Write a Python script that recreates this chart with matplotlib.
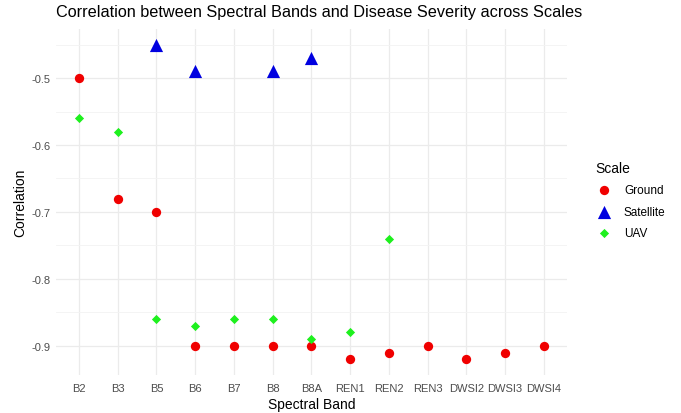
import numpy as np
import matplotlib.pyplot as plt

plt.rcParams['font.family'] = ['Liberation Sans', 'DejaVu Sans']

bands = ["B2", "B3", "B5", "B6", "B7", "B8", "B8A", "REN1", "REN2", "REN3",
         "DWSI2", "DWSI3", "DWSI4"]

# Ground
ground_bands = ["B2", "B3", "B5", "B6", "B7", "B8", "B8A", "REN1", "REN2", "REN3",
                "DWSI2", "DWSI3", "DWSI4"]
ground_vals = [-0.50, -0.68, -0.70, -0.90, -0.90, -0.90, -0.90, -0.92, -0.91, -0.90,
               -0.92, -0.91, -0.90]

# Satellite
sat_bands = ["B5", "B6", "B8", "B8A"]
sat_vals = [-0.45, -0.49, -0.49, -0.47]

# UAV
uav_bands = ["B2", "B3", "B5", "B6", "B7", "B8", "B8A", "REN1", "REN2"]
uav_vals = [-0.56, -0.58, -0.86, -0.87, -0.86, -0.86, -0.89, -0.88, -0.74]

pos = {b: i for i, b in enumerate(bands)}

fig = plt.figure(figsize=(6.81, 4.14), dpi=100)
ax = fig.add_axes([0.0819, 0.0918, 0.7507, 0.8362])

ax.scatter([pos[b] for b in ground_bands], ground_vals, s=45, marker='o',
           color='#F00000', label='Ground', zorder=3, linewidths=0)
ax.scatter([pos[b] for b in sat_bands], sat_vals, s=90, marker='^',
           color='#0000E0', label='Satellite', zorder=3, linewidths=0)
ax.scatter([pos[b] for b in uav_bands], uav_vals, s=22, marker='D',
           color='#1EF01E', label='UAV', zorder=3, linewidths=0)

ax.set_xlim(-0.6, len(bands) - 1 + 0.6)
ax.set_ylim(-0.9435, -0.4265)
ax.set_xticks(range(len(bands)))
ax.set_xticklabels(bands)
ax.set_yticks([-0.9, -0.8, -0.7, -0.6, -0.5])
ax.set_yticklabels(["-0.9", "-0.8", "-0.7", "-0.6", "-0.5"])
ax.set_yticks([-0.85, -0.75, -0.65, -0.55, -0.45], minor=True)

ax.grid(True, which='major', color='#EBEBEB', linewidth=0.9)
ax.grid(True, which='minor', axis='y', color='#F3F3F3', linewidth=0.6)
ax.set_axisbelow(True)
for s in ax.spines.values():
    s.set_visible(False)
ax.tick_params(which='both', length=0, labelsize=8, labelcolor='#4D4D4D')
ax.tick_params(axis='x', pad=6)
ax.tick_params(axis='y', pad=4)

ax.set_xlabel("Spectral Band", fontsize=10, labelpad=3)
ax.set_ylabel("Correlation", fontsize=10, labelpad=3)
ax.set_title("Correlation between Spectral Bands and Disease Severity across Scales",
             fontsize=11.7, loc='left', x=0.0, pad=9)

leg = fig.legend(title="Scale", loc='upper left', bbox_to_anchor=(0.865, 0.623),
                 frameon=False, fontsize=8.5, title_fontsize=10, borderpad=0,
                 handlelength=1.6, handletextpad=0.85, labelspacing=0.8,
                 alignment='left')

fig.savefig("out.png", dpi=100)
